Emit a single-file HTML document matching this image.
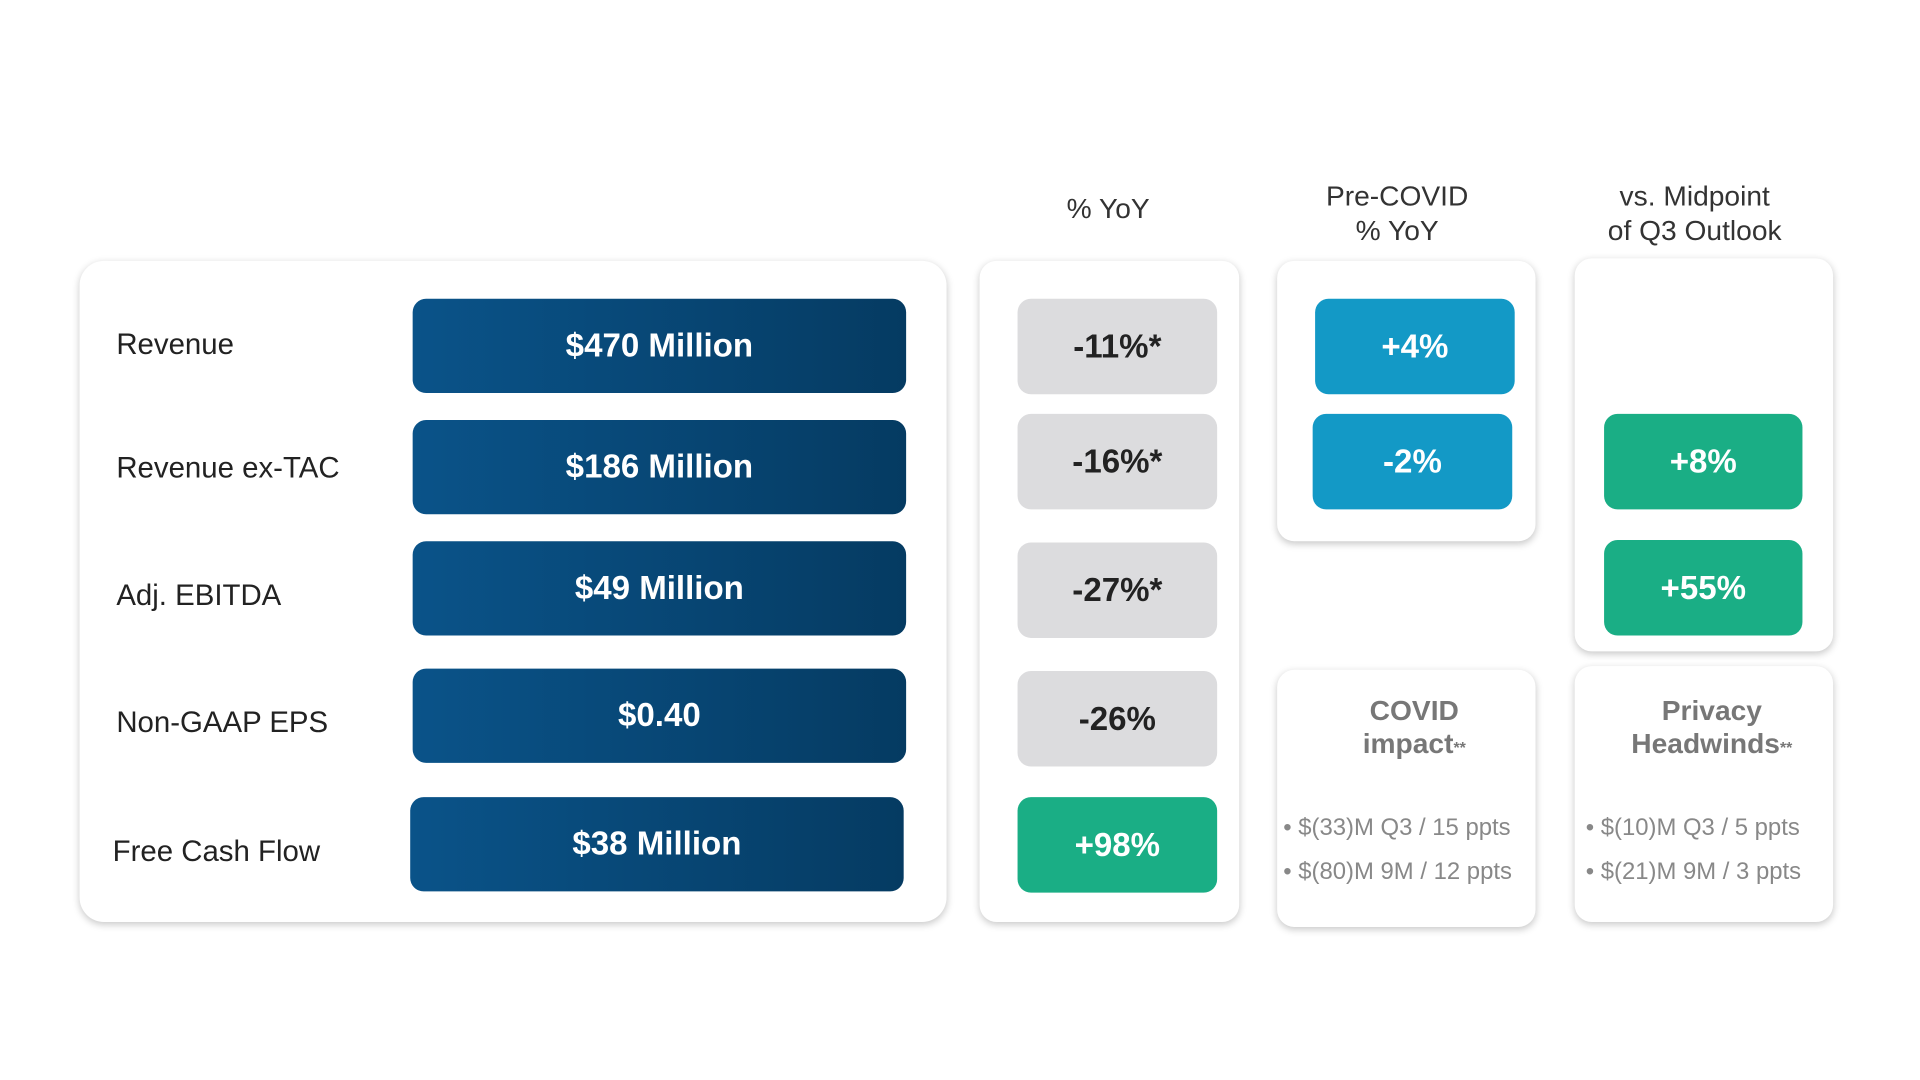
<!DOCTYPE html>
<html><head><meta charset="utf-8"><style>
html,body{margin:0;padding:0;background:#fff;width:1920px;height:1080px;overflow:hidden}
#s{position:absolute;left:0;top:0;width:1568px;height:882px;transform:scale(1.22449);transform-origin:0 0;font-family:"Liberation Sans",sans-serif}
.card{position:absolute;background:#fff;border-radius:14px;box-shadow:0 2px 6px rgba(0,0,0,.22)}
.lbl{position:absolute;font-size:24px;color:#222;transform:translateY(-50%);white-space:nowrap}
.box{position:absolute;border-radius:11px;display:flex;align-items:center;justify-content:center;font-weight:bold;font-size:27px;color:#fff}
.navy{background:linear-gradient(90deg,#0a5389,#053b62)}
.grey{background:#dcdcde;color:#222}
.blue{background:#1399c6}
.green{background:#1aae85}
.hdr{position:absolute;font-size:23px;color:#333;text-align:center;line-height:28px;transform:translateX(-50%);white-space:nowrap}
.sub{position:absolute;font-size:23px;font-weight:bold;color:#777;text-align:center;line-height:27px;transform:translateX(-50%);white-space:nowrap}
.bul{position:absolute;font-size:19.5px;color:#888;line-height:36px;white-space:nowrap}
</style></head><body>
<div id="s">
<div class="card" style="left:65px;top:213px;width:708px;height:540px;border-radius:20px"></div>
<div class="card" style="left:800px;top:213px;width:212px;height:540px"></div>
<div class="card" style="left:1043px;top:213px;width:211px;height:229px"></div>
<div class="card" style="left:1043px;top:547px;width:211px;height:210px"></div>
<div class="card" style="left:1286px;top:211px;width:211px;height:321px"></div>
<div class="card" style="left:1286px;top:544px;width:211px;height:209px"></div>

<div class="hdr" style="left:905px;top:156px">% YoY</div>
<div class="hdr" style="left:1141px;top:146px">Pre-COVID<br>% YoY</div>
<div class="hdr" style="left:1384px;top:146px">vs. Midpoint<br>of Q3 Outlook</div>

<div class="lbl" style="left:95px;top:282px">Revenue</div>
<div class="lbl" style="left:95px;top:383px">Revenue ex-TAC</div>
<div class="lbl" style="left:95px;top:487px">Adj. EBITDA</div>
<div class="lbl" style="left:95px;top:591px">Non-GAAP EPS</div>
<div class="lbl" style="left:92px;top:696px">Free Cash Flow</div>

<div class="box navy" style="left:337px;top:244px;width:403px;height:77px">$470 Million</div>
<div class="box navy" style="left:337px;top:343px;width:403px;height:77px">$186 Million</div>
<div class="box navy" style="left:337px;top:442px;width:403px;height:77px">$49 Million</div>
<div class="box navy" style="left:337px;top:546px;width:403px;height:77px">$0.40</div>
<div class="box navy" style="left:335px;top:651px;width:403px;height:77px">$38 Million</div>

<div class="box grey" style="left:831px;top:244px;width:163px;height:78px">-11%*</div>
<div class="box grey" style="left:831px;top:338px;width:163px;height:78px">-16%*</div>
<div class="box grey" style="left:831px;top:443px;width:163px;height:78px">-27%*</div>
<div class="box grey" style="left:831px;top:548px;width:163px;height:78px">-26%</div>
<div class="box green" style="left:831px;top:651px;width:163px;height:78px">+98%</div>

<div class="box blue" style="left:1074px;top:244px;width:163px;height:78px">+4%</div>
<div class="box blue" style="left:1072px;top:338px;width:163px;height:78px">-2%</div>

<div class="box green" style="left:1310px;top:338px;width:162px;height:78px">+8%</div>
<div class="box green" style="left:1310px;top:441px;width:162px;height:78px">+55%</div>

<div class="sub" style="left:1155px;top:567px">COVID<br>impact<span style="font-size:13px">**</span></div>
<div class="bul" style="left:1048px;top:658px">• $(33)M Q3 / 15 ppts<br>• $(80)M 9M / 12 ppts</div>
<div class="sub" style="left:1398px;top:567px">Privacy<br>Headwinds<span style="font-size:13px">**</span></div>
<div class="bul" style="left:1295px;top:658px">• $(10)M Q3 / 5 ppts<br>• $(21)M 9M / 3 ppts</div>
</div>
</body></html>
